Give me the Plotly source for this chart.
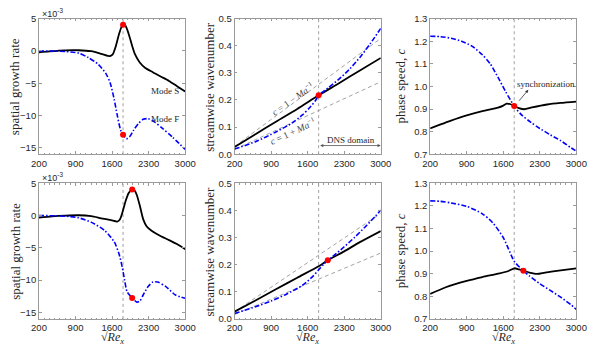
import plotly.graph_objects as go

# ---------------- data ----------------
# x-axis tick labels (sqrt(Re_x))
x_ticks = [200, 900, 1600, 2300, 3000]

# vertical marker line (start of DNS domain) and synchronization points
x_sync_top = 1810
x_sync_bot = 1985

# ---- top row: spatial growth rate (units of 1e-3) ----
gr_S_top_x = [200, 400, 700, 950, 1200, 1390, 1520, 1570, 1615, 1670, 1735, 1785, 1812, 1855, 1915, 1980, 2040, 2130, 2230, 2380, 2540, 2690, 2850, 3000]
gr_S_top_y = [-0.22, -0.08, 0.08, 0.1, -0.05, -0.45, -0.78, -0.78, -0.5, 0.7, 2.65, 3.8, 4.05, 3.9, 2.7, 0.9, -0.55, -1.8, -2.6, -3.3, -4.0, -4.65, -5.5, -6.3]
gr_F_top_x = [200, 500, 710, 960, 1145, 1330, 1485, 1565, 1640, 1700, 1765, 1812, 1875, 1935, 2010, 2100, 2195, 2290, 2410, 2565, 2750, 3000]
gr_F_top_y = [0.0, -0.03, -0.1, -0.35, -1.05, -2.05, -3.55, -5.0, -7.5, -10.0, -12.3, -13.0, -13.6, -13.3, -12.3, -11.3, -10.6, -10.5, -11.0, -12.0, -13.3, -15.25]

# ---- bottom row: spatial growth rate (units of 1e-3) ----
gr_S_bot_x = [200, 450, 710, 960, 1200, 1390, 1580, 1700, 1750, 1795, 1855, 1918, 1985, 2030, 2075, 2135, 2195, 2260, 2350, 2500, 2690, 2850, 3000]
gr_S_bot_y = [-0.32, -0.12, 0.0, 0.05, -0.1, -0.42, -0.72, -0.92, -0.6, 0.4, 2.15, 3.5, 4.05, 3.9, 3.15, 1.4, -0.55, -1.65, -2.3, -3.05, -3.8, -4.45, -5.2]
gr_F_bot_x = [200, 500, 710, 960, 1205, 1455, 1640, 1735, 1795, 1840, 1888, 1985, 2075, 2135, 2195, 2290, 2380, 2475, 2630, 2815, 3000]
gr_F_bot_y = [0.0, -0.03, -0.1, -0.35, -1.05, -2.3, -4.05, -6.0, -8.0, -10.0, -11.8, -12.75, -13.4, -13.2, -12.3, -11.0, -10.3, -10.3, -11.0, -12.3, -12.8]

# ---- top row: streamwise wavenumber ----
wn_S_top_x = [200, 600, 1000, 1400, 1810, 2200, 2600, 3000]
wn_S_top_y = [0.027, 0.074, 0.121, 0.167, 0.217, 0.262, 0.309, 0.355]
wn_F_top_x = [200, 600, 1000, 1300, 1500, 1650, 1750, 1810, 1900, 2000, 2200, 2400, 2600, 2800, 3000]
wn_F_top_y = [0.019, 0.046, 0.083, 0.115, 0.145, 0.174, 0.198, 0.217, 0.231, 0.246, 0.277, 0.313, 0.357, 0.408, 0.464]
# reference lines c = 1 -/+ Ma^-1 (endpoints)
ref_x = [200, 3000]
ref_minus_top = [0.0285, 0.427]
ref_plus_top = [0.0178, 0.267]

# ---- bottom row: streamwise wavenumber ----
wn_S_bot_x = [200, 600, 1000, 1400, 1810, 1985, 2300, 2600, 3000]
wn_S_bot_y = [0.027, 0.068, 0.11, 0.152, 0.194, 0.216, 0.249, 0.283, 0.324]
wn_F_bot_x = [200, 600, 900, 1200, 1500, 1700, 1810, 1900, 1985, 2100, 2300, 2500, 2700, 2900, 3000]
wn_F_bot_y = [0.02, 0.045, 0.066, 0.092, 0.124, 0.157, 0.181, 0.2, 0.216, 0.233, 0.266, 0.301, 0.339, 0.379, 0.401]
ref_minus_bot = [0.026, 0.389]
ref_plus_bot = [0.0162, 0.243]

# ---- top row: phase speed ----
ps_S_top_x = [200, 400, 600, 900, 1200, 1500, 1600, 1665, 1740, 1810, 1900, 2000, 2150, 2440, 2700, 3000]
ps_S_top_y = [0.814, 0.832, 0.849, 0.872, 0.891, 0.906, 0.915, 0.924, 0.921, 0.913, 0.904, 0.899, 0.907, 0.92, 0.927, 0.933]
ps_F_top_x = [200, 400, 600, 800, 1000, 1200, 1350, 1500, 1650, 1810, 1950, 2130, 2300, 2500, 2700, 2900, 3000]
ps_F_top_y = [1.222, 1.22, 1.213, 1.2, 1.178, 1.14, 1.1, 1.04, 0.975, 0.913, 0.874, 0.841, 0.814, 0.786, 0.76, 0.728, 0.713]

# ---- bottom row: phase speed ----
ps_S_bot_x = [200, 500, 900, 1200, 1500, 1700, 1810, 1900, 1985, 2100, 2250, 2400, 2700, 3000]
ps_S_bot_y = [0.81, 0.84, 0.868, 0.885, 0.9, 0.912, 0.924, 0.919, 0.913, 0.905, 0.899, 0.905, 0.915, 0.924]
ps_F_bot_x = [200, 400, 600, 900, 1200, 1400, 1600, 1700, 1810, 1985, 2100, 2300, 2500, 2700, 2900, 3000]
ps_F_bot_y = [1.222, 1.22, 1.213, 1.198, 1.165, 1.125, 1.06, 1.01, 0.955, 0.913, 0.89, 0.856, 0.826, 0.796, 0.762, 0.742]

# synchronization-point values
sync_gr_top = [4.05, -13.0]
sync_gr_bot = [4.05, -12.75]
sync_wn_top = [0.217]
sync_wn_bot = [0.216]
sync_ps_top = [0.913]
sync_ps_bot = [0.913]

# ---------------- styling ----------------
W, H = 598, 352
col_px = [(32, 183), (234, 385), (436, 587)]
row_px = [(13, 153), (183, 323)]
TICK_FONT = dict(family="Liberation Sans, Arial, sans-serif", size=9.5, color="#262626")
SERIF = "Liberation Serif, Times New Roman, serif"
AX_COL = "#9a9a9a"
BLACK = dict(color="black", width=1.8)
BLUE = dict(color="#0000ff", width=1.6, dash="5px,2px,1.5px,2px")
GRAY_DASH = dict(color="#999999", width=0.9, dash="4px,3px")

fig = go.Figure()

yranges = [[-16, 5], [0, 0.5], [0.7, 1.3]]
yticks = [[-15, -10, -5, 0, 5], [0, 0.1, 0.2, 0.3, 0.4, 0.5], [0.7, 0.8, 0.9, 1.0, 1.1, 1.2, 1.3]]
ytickfmt = [None, ".1f", ".1f"]

axes = {}
idx = 0
for r in range(2):
    for c in range(3):
        idx += 1
        sx = "" if idx == 1 else str(idx)
        xd = [col_px[c][0] / W, col_px[c][1] / W]
        yd = [1 - row_px[r][1] / H, 1 - row_px[r][0] / H]
        common = dict(showline=True, linecolor=AX_COL, linewidth=0.8, mirror="allticks",
                      ticks="inside", ticklen=3, tickcolor=AX_COL, tickwidth=0.8,
                      showgrid=False, zeroline=False, tickfont=TICK_FONT)
        xa = dict(common, domain=xd, anchor="y" + sx, range=[200, 3000], tickvals=x_ticks,
                  minor=dict(ticks="inside", ticklen=1.5, tickcolor=AX_COL, dtick=100, showgrid=False))
        ya = dict(common, domain=yd, anchor="x" + sx, range=yranges[c], tickvals=yticks[c])
        if ytickfmt[c]:
            ya["tickformat"] = ytickfmt[c]
        fig.update_layout(**{"xaxis" + sx: xa, "yaxis" + sx: ya})
        axes[(r, c)] = ("x" + sx, "y" + sx)


def add_line(rc, xs, ys, style):
    xa, ya = axes[rc]
    line = style if style is GRAY_DASH else dict(style, shape="spline", smoothing=0.7)
    fig.add_trace(go.Scatter(x=xs, y=ys, mode="lines", line=line,
                             xaxis=xa, yaxis=ya, showlegend=False, hoverinfo="skip"))


def add_dots(rc, xval, ys):
    xa, ya = axes[rc]
    fig.add_trace(go.Scatter(x=[xval] * len(ys), y=ys, mode="markers",
                             marker=dict(color="#ff0000", size=6),
                             xaxis=xa, yaxis=ya, showlegend=False, hoverinfo="skip"))


def add_vline(rc, xval):
    xa, ya = axes[rc]
    fig.add_shape(type="line", x0=xval, x1=xval, y0=0, y1=1, xref=xa, yref=ya + " domain",
                  line=dict(color="#a0a0a0", width=1, dash="dot"), layer="below")


# top row
add_line((0, 0), gr_S_top_x, gr_S_top_y, BLACK)
add_line((0, 0), gr_F_top_x, gr_F_top_y, BLUE)
add_line((0, 1), ref_x, ref_minus_top, GRAY_DASH)
add_line((0, 1), ref_x, ref_plus_top, GRAY_DASH)
add_line((0, 1), wn_S_top_x, wn_S_top_y, BLACK)
add_line((0, 1), wn_F_top_x, wn_F_top_y, BLUE)
add_line((0, 2), ps_S_top_x, ps_S_top_y, BLACK)
add_line((0, 2), ps_F_top_x, ps_F_top_y, BLUE)
# bottom row
add_line((1, 0), gr_S_bot_x, gr_S_bot_y, BLACK)
add_line((1, 0), gr_F_bot_x, gr_F_bot_y, BLUE)
add_line((1, 1), ref_x, ref_minus_bot, GRAY_DASH)
add_line((1, 1), ref_x, ref_plus_bot, GRAY_DASH)
add_line((1, 1), wn_S_bot_x, wn_S_bot_y, BLACK)
add_line((1, 1), wn_F_bot_x, wn_F_bot_y, BLUE)
add_line((1, 2), ps_S_bot_x, ps_S_bot_y, BLACK)
add_line((1, 2), ps_F_bot_x, ps_F_bot_y, BLUE)

for c in range(3):
    add_vline((0, c), x_sync_top)
    add_vline((1, c), x_sync_top)

add_dots((0, 0), x_sync_top, sync_gr_top)
add_dots((0, 1), x_sync_top, sync_wn_top)
add_dots((0, 2), x_sync_top, sync_ps_top)
add_dots((1, 0), x_sync_bot, sync_gr_bot)
add_dots((1, 1), x_sync_bot, sync_wn_bot)
add_dots((1, 2), x_sync_bot, sync_ps_bot)

ann = []
# y-axis titles
ytitles = ["spatial growth rate", "streamwise wavenumber", "phase speed, <i>c</i>"]
ytitle_x = [7, 208, 405]
for r in range(2):
    for c in range(3):
        ann.append(dict(text=ytitles[c], x=ytitle_x[c] / W, y=1 - ((row_px[r][0] + row_px[r][1]) / 2) / H,
                        xref="paper", yref="paper", textangle=-90, showarrow=False,
                        font=dict(family=SERIF, size=13, color="#262626"), xanchor="center", yanchor="middle"))
# x-axis titles (bottom row)
for c in range(3):
    ann.append(dict(text="√<i>Re</i><sub><i>x</i></sub>", x=((col_px[c][0] + col_px[c][1]) / 2) / W, y=0,
                    xref="paper", yref="paper", showarrow=False, borderpad=0,
                    font=dict(family=SERIF, size=12, color="#262626"), xanchor="center", yanchor="bottom"))
# exponent labels
for r in range(2):
    ann.append(dict(text="×10<sup>-3</sup>", x=33 / W, y=1 - (row_px[r][0] - 6) / H, xref="paper", yref="paper",
                    showarrow=False, xanchor="left", yanchor="middle",
                    font=dict(family="Liberation Sans, Arial, sans-serif", size=9, color="#262626")))
# Mode labels
ann.append(dict(text="Mode S", x=2610, y=-6.2, xref="x", yref="y", showarrow=False,
                font=dict(family=SERIF, size=9, color="#262626")))
ann.append(dict(text="Mode F", x=2620, y=-10.5, xref="x", yref="y", showarrow=False,
                font=dict(family=SERIF, size=9, color="#262626")))
# c = 1 -/+ Ma^-1 labels
ann.append(dict(text="<i>c</i> = 1 − <i>Ma</i><sup>−1</sup>", x=1300, y=0.204, xref="x2", yref="y2",
                showarrow=False, textangle=-35, font=dict(family=SERIF, size=9.5, color="#444444")))
ann.append(dict(text="<i>c</i> = 1 + <i>Ma</i><sup>−1</sup>", x=1310, y=0.086, xref="x2", yref="y2",
                showarrow=False, textangle=-25, font=dict(family=SERIF, size=9.5, color="#444444")))
# DNS domain
ann.append(dict(text="", x=3000, y=0.032, ax=x_sync_top, ay=0.032, xref="x2", yref="y2", axref="x2", ayref="y2",
                showarrow=True, arrowhead=2, arrowside="end+start", arrowsize=0.8, arrowwidth=0.8, arrowcolor="#555555"))
ann.append(dict(text="DNS domain", x=2430, y=0.053, xref="x2", yref="y2", showarrow=False,
                font=dict(family=SERIF, size=9, color="#262626")))
# synchronization
ann.append(dict(text="", x=2080, y=0.985, ax=1880, ay=0.930, xref="x3", yref="y3", axref="x3", ayref="y3",
                showarrow=True, arrowhead=2, arrowsize=0.8, arrowwidth=0.8, arrowcolor="#333333"))
ann.append(dict(text="synchronization", x=2410, y=1.01, xref="x3", yref="y3", showarrow=False,
                font=dict(family=SERIF, size=9, color="#262626")))

fig.update_layout(width=W, height=H, autosize=False, margin=dict(l=0, r=0, t=0, b=0),
                  paper_bgcolor="white", plot_bgcolor="white", annotations=ann)

fig.write_html("out.html", config={"displayModeBar": False},
               post_script="document.body.style.margin='0';document.body.style.overflow='hidden';")
